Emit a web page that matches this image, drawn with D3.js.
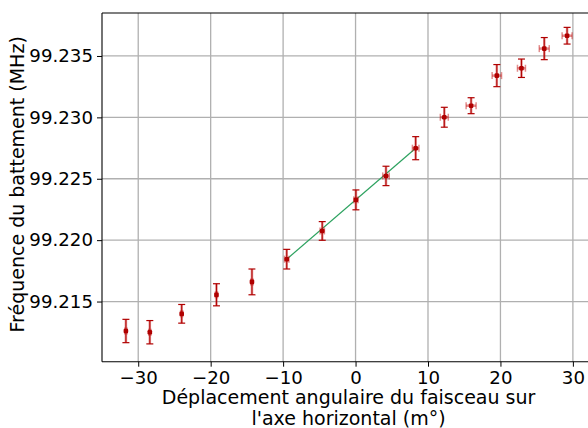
<!DOCTYPE html>
<html>
<head>
<meta charset="utf-8">
<script src="https://cdn.jsdelivr.net/npm/d3@7"></script>
<style>
  body { margin: 0; background: #fff; }
  text { font-family: "DejaVu Sans", sans-serif; }
</style>
</head>
<body>
<div id="chart"></div>
<script>
// angular displacement (m°), beat frequency (MHz) and their uncertainties
var angles = [-31.7, -28.4, -24.0, -19.2, -14.3, -9.5, -4.6, 0.05, 4.2, 8.3, 12.25, 15.95, 19.5, 22.9, 26.05, 29.2];
var freqs  = [99.2126, 99.2125, 99.2140, 99.21555, 99.2166, 99.21845, 99.22075, 99.22328, 99.22523, 99.22749, 99.23001, 99.23095, 99.2334, 99.2340, 99.2356, 99.23665];
var freqErr = [0.00095, 0.00095, 0.00076, 0.0009, 0.00105, 0.0008, 0.00076, 0.00081, 0.00079, 0.00094, 0.00081, 0.00065, 0.0009, 0.00075, 0.0009, 0.00068];
var angleErr = [0.15, 0.15, 0.15, 0.15, 0.15, 0.3, 0.3, 0.3, 0.45, 0.45, 0.55, 0.69, 0.65, 0.55, 0.69, 0.69];
// fitted line over the central points
var fitAngles = [-9.5, 8.3];
var fitFreqs = [99.21845, 99.22749];

var xTicks = [-30, -20, -10, 0, 10, 20, 30];
var yTicks = [99.215, 99.220, 99.225, 99.230, 99.235];

var W = 588, H = 428;
var tickFont = "18.2px", labelFont = "19px";
var margin = { top: 13, right: -3, bottom: 66.3, left: 102 },
    width = W - margin.left - margin.right,
    height = H - margin.top - margin.bottom;

var svg = d3.select("#chart")
    .append("svg")
    .attr("width", W)
    .attr("height", H)
    .append("g")
    .attr("transform", "translate(" + margin.left + "," + margin.top + ")");

var x = d3.scaleLinear().domain([-35, 32.5]).range([0, width]);
var y = d3.scaleLinear().domain([99.2101, 99.2385]).range([height, 0]);

var data = angles.map(function (a, i) {
    return { x: a, y: freqs[i], ex: angleErr[i], ey: freqErr[i] };
});

// grid
svg.append("g").selectAll("line")
    .data(xTicks).enter().append("line")
    .attr("x1", d => x(d)).attr("x2", d => x(d))
    .attr("y1", 0).attr("y2", height)
    .attr("stroke", "#b0b0b0").attr("stroke-width", 1.3);
svg.append("g").selectAll("line")
    .data(yTicks).enter().append("line")
    .attr("x1", 0).attr("x2", width)
    .attr("y1", d => y(d)).attr("y2", d => y(d))
    .attr("stroke", "#b0b0b0").attr("stroke-width", 1.3);

// axes
var xAxis = svg.append("g")
    .attr("transform", "translate(0," + height + ")")
    .call(d3.axisBottom(x).tickValues(xTicks).tickSize(5).tickPadding(4).tickFormat(d3.format("d")));
var yAxis = svg.append("g")
    .call(d3.axisLeft(y).tickValues(yTicks).tickSize(5).tickPadding(4).tickFormat(d3.format(".3f")));
[xAxis, yAxis].forEach(function (g) {
    g.select(".domain").remove();
    g.selectAll("line").attr("stroke", "#000").attr("stroke-width", 1);
    g.selectAll("text").attr("fill", "#000")
        .style("font-size", tickFont)
        .style("font-family", "DejaVu Sans");
});

// spines
svg.append("line").attr("x1", 0).attr("x2", 0).attr("y1", 0).attr("y2", height)
    .attr("stroke", "#000").attr("stroke-width", 1.1);
svg.append("line").attr("x1", 0).attr("x2", width).attr("y1", height).attr("y2", height)
    .attr("stroke", "#000").attr("stroke-width", 1.1);
svg.append("line").attr("x1", 0).attr("x2", width).attr("y1", 0).attr("y2", 0)
    .attr("stroke", "#000").attr("stroke-width", 1.1);
svg.append("line").attr("x1", width).attr("x2", width).attr("y1", 0).attr("y2", height)
    .attr("stroke", "#000").attr("stroke-width", 1.1);

// fit line
svg.append("path")
    .datum(fitAngles.map((a, i) => [a, fitFreqs[i]]))
    .attr("d", d3.line().x(d => x(d[0])).y(d => y(d[1])))
    .attr("fill", "none")
    .attr("stroke", "#2ca25f")
    .attr("stroke-width", 1.2);

// error bars: light layer (x and y), then dark layer (y)
var light = "rgba(200,30,30,0.5)", dark = "#b00000";
var pts = svg.append("g").selectAll("g").data(data).enter().append("g");

pts.append("line")
    .attr("x1", d => x(d.x - d.ex)).attr("x2", d => x(d.x + d.ex))
    .attr("y1", d => y(d.y)).attr("y2", d => y(d.y))
    .attr("stroke", light).attr("stroke-width", 2.5);
pts.append("line")
    .attr("x1", d => x(d.x - d.ex)).attr("x2", d => x(d.x - d.ex))
    .attr("y1", d => y(d.y) - 3.5).attr("y2", d => y(d.y) + 3.5)
    .attr("stroke", light).attr("stroke-width", 1.5);
pts.append("line")
    .attr("x1", d => x(d.x + d.ex)).attr("x2", d => x(d.x + d.ex))
    .attr("y1", d => y(d.y) - 3.5).attr("y2", d => y(d.y) + 3.5)
    .attr("stroke", light).attr("stroke-width", 1.5);
pts.append("line")
    .attr("x1", d => x(d.x)).attr("x2", d => x(d.x))
    .attr("y1", d => y(d.y - d.ey)).attr("y2", d => y(d.y + d.ey))
    .attr("stroke", light).attr("stroke-width", 2.5);

pts.append("line")
    .attr("x1", d => x(d.x)).attr("x2", d => x(d.x))
    .attr("y1", d => y(d.y - d.ey)).attr("y2", d => y(d.y + d.ey))
    .attr("stroke", dark).attr("stroke-width", 1);
[-1, 1].forEach(function (s) {
    pts.append("line")
        .attr("x1", d => x(d.x) - 3.5).attr("x2", d => x(d.x) + 3.5)
        .attr("y1", d => y(d.y + s * d.ey)).attr("y2", d => y(d.y + s * d.ey))
        .attr("stroke", dark).attr("stroke-width", 1.2);
});

pts.append("rect")
    .attr("x", d => x(d.x) - 2.3).attr("y", d => y(d.y) - 2.3)
    .attr("width", 4.6).attr("height", 4.6)
    .attr("rx", 1.2)
    .attr("fill", dark);

// axis labels
svg.append("text")
    .attr("x", x(0) - 7)
    .attr("y", height + 42)
    .attr("text-anchor", "middle")
    .style("font-size", labelFont)
    .text("Déplacement angulaire du faisceau sur");
svg.append("text")
    .attr("x", x(0) - 7)
    .attr("y", height + 63)
    .attr("text-anchor", "middle")
    .style("font-size", labelFont)
    .text("l'axe horizontal (m°)");
svg.append("text")
    .attr("transform", "translate(" + (-78) + "," + (height / 2 - 3) + ")rotate(-90)")
    .attr("text-anchor", "middle")
    .style("font-size", labelFont)
    .text("Fréquence du battement (MHz)");
</script>
</body>
</html>
